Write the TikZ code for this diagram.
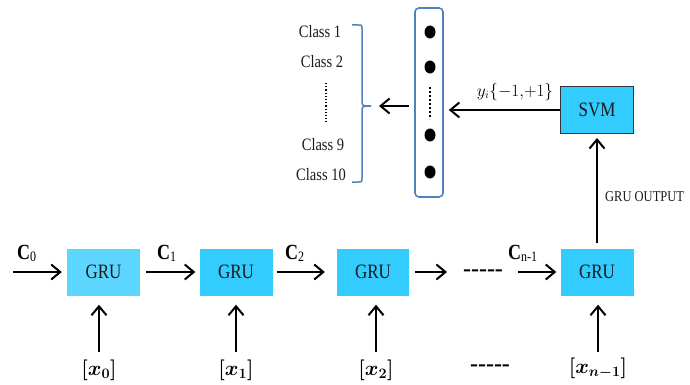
\documentclass[tikz,border=0pt]{standalone}
\usepackage{fontspec}
\setmainfont{Liberation Serif}
\usepackage{amsmath}
\usepackage{graphicx}
\usetikzlibrary{arrows.meta,shapes.geometric}
\definecolor{grublue}{HTML}{33CCFF}
\definecolor{grulight}{HTML}{5CD6FF}
\definecolor{vecblue}{HTML}{4F81BD}
\definecolor{txt}{HTML}{1A1A1A}
\newcommand{\vst}[1]{\scalebox{1}[1.2]{#1}}
\begin{document}
\begin{tikzpicture}[x=1pt,y=-1pt,
  grubox/.style={rectangle, fill=grublue, minimum width=73pt, minimum height=47pt, inner sep=0pt, font=\fontsize{17}{20}\selectfont, text=txt},
  arr/.style={line width=2pt, -{Straight Barb[length=9pt,width=15pt,line width=2pt]}},
  clab/.style={font=\fontsize{14.5}{17}\selectfont, text=txt, inner sep=0pt},
  inlab/.style={font=\fontsize{22}{26}\selectfont\boldmath, inner sep=0pt},
  slab/.style={font=\fontsize{18}{22}\selectfont, inner sep=0pt},
  dashtxt/.style={font=\fontsize{24}{26}\selectfont\bfseries, inner sep=0pt}
]
\useasboundingbox (0,0) rectangle (690,385);

% GRU chain
\node[grubox, fill=grulight] (g1) at (103.5,272) {\vst{GRU}};
\node[grubox] (g2) at (236,272) {\vst{GRU}};
\node[grubox, minimum width=72pt] (g3) at (373,272) {\vst{GRU}};
\node[grubox] (g4) at (597,272) {\vst{GRU}};

% SVM
\node[rectangle, fill=grublue, draw=black!80, line width=1pt, minimum width=73pt, minimum height=47pt, inner sep=0pt, font=\fontsize{17}{20}\selectfont, text=txt] (svm) at (597,110) {\vst{SVM}};

% vector box
\node[rectangle, rounded corners=4pt, draw=vecblue, line width=1.6pt, minimum width=28pt, minimum height=189pt, inner sep=0pt] (vec) at (429,102.5) {};
\foreach \yy/\nm in {32/d1,67/d2,135/d3,172/d4}
  \node[ellipse, fill=black, minimum width=11pt, minimum height=13pt, inner sep=0pt] (\nm) at (430,\yy) {};
\coordinate (vdt) at (430,87);
\coordinate (vdb) at (430,119);
\draw[line width=2.6pt, dash pattern=on 2pt off 2pt] (vdt) -- (vdb);

% horizontal arrows
\coordinate (c0s) at (13,272);
\draw[arr, shorten >=5pt] (c0s) -- (c0s -| g1.west);
\node[slab, anchor=base west] (c0) at (17,259) {\vst{\textbf{C}\fontsize{12}{14}\selectfont\raisebox{-2pt}{0}}};
\draw[arr, shorten <=6pt, shorten >=4pt] (g1.east) -- (g2.west);
\node[slab, anchor=base west] (c1) at (157,259) {\vst{\textbf{C}\fontsize{12}{14}\selectfont\raisebox{-2pt}{1}}};
\draw[arr, shorten <=4pt, shorten >=12pt] (g2.east) -- (g3.west);
\node[slab, anchor=base west] (c2) at (285,259) {\vst{\textbf{C}\fontsize{12}{14}\selectfont\raisebox{-2pt}{2}}};
\coordinate (a3e) at (447,272);
\draw[arr, shorten <=6pt] (g3.east |- a3e) -- (a3e);
\node[dashtxt] (dash1) at (483,273) {-{}-{}-{}-{}-};
\coordinate (cns) at (518,272);
\draw[arr, shorten >=4pt] (cns) -- (cns -| g4.west);
\node[slab, anchor=base west] (cn) at (508,259) {\vst{\textbf{C}\fontsize{12}{14}\selectfont\raisebox{-2pt}{n-1}}};

% inputs
\node[inlab] (x0) at (99,370) {$[x_0]$};
\node[inlab] (x1) at (236,370) {$[x_1]$};
\node[inlab] (x2) at (376,370) {$[x_2]$};
\node[inlab] (xn) at (598,368) {$[x_{n-1}]$};
\node[dashtxt] (dash2) at (490,368) {-{}-{}-{}-{}-};
\foreach \x/\g in {x0/g1,x1/g2,x2/g3,xn/g4}{
  \coordinate (\x b) at ([yshift=8pt]\x.north);
  \draw[arr, shorten >=9pt] (\x b |- 0,352) -- (\x b |- \g.south);
}

% GRU output to SVM
\draw[arr, shorten <=5pt, shorten >=4pt] (g4.north) -- (svm.south);
\node[font=\fontsize{12.5}{14}\selectfont, text=txt, anchor=west, inner sep=0pt] (go) at (605,197) {\vst{GRU OUTPUT}};

% SVM to vector
\draw[arr, shorten >=5pt] (svm.west) -- (svm.west -| vec.east);
\node[font=\fontsize{16}{18}\selectfont, inner sep=0pt] (yl) at (515,92) {$y_i\{-1{,}{+}1\}$};

% brace
\coordinate (bt) at (371,106);
\draw[vecblue, line width=1.5pt] (352,25) -- (358,25) .. controls (362,25) .. (362,29) -- (362,100) .. controls (362,106) .. (371,106) .. controls (362,106) .. (362,112) -- (362,178) .. controls (362,182) .. (358,182) -- (352,182);
\draw[arr, shorten <=5pt, shorten >=8pt] (vec.west |- bt) -- (bt);

% class labels
\node[clab] (k1) at (320,32) {\vst{Class 1}};
\node[clab] (k2) at (322,62) {\vst{Class 2}};
\node[clab] (k9) at (323,145) {\vst{Class 9}};
\node[clab] (k10) at (321,175) {\vst{Class 10}};
\draw[line width=1.2pt, dotted] (326,83) -- (326,122);
\end{tikzpicture}
\end{document}
